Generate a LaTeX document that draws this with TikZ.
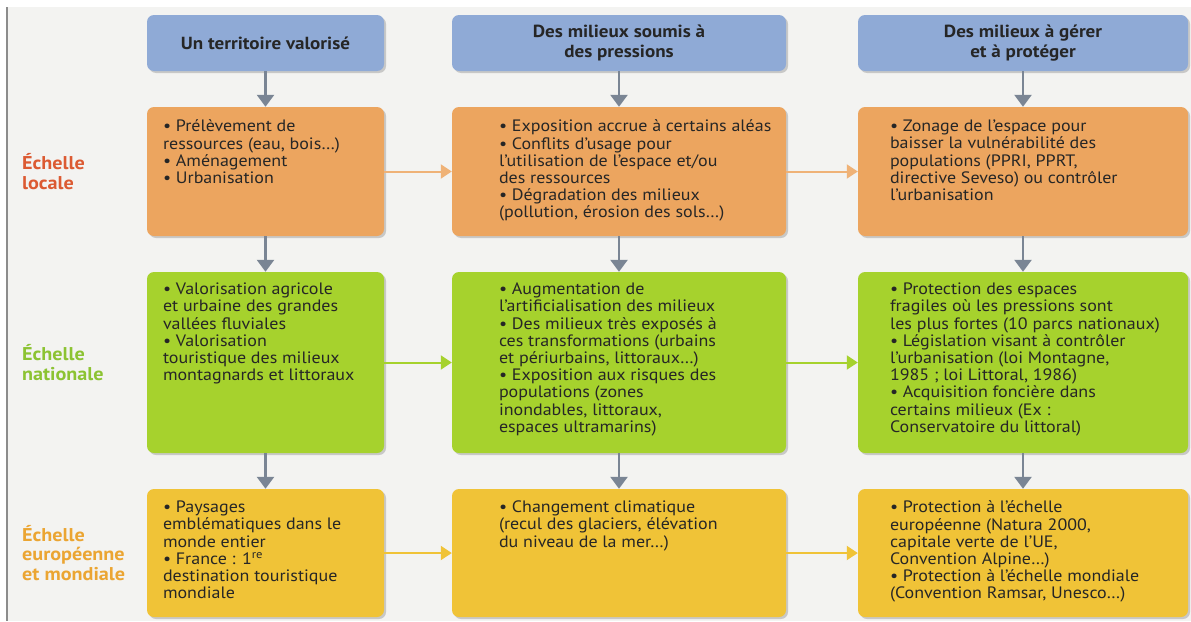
\documentclass[tikz,border=0pt]{standalone}
\usepackage{fontspec}
\setmainfont{PT Sans}[FakeStretch=1.09]
\usepackage{tikz}
\usetikzlibrary{arrows.meta,shadows}
\definecolor{bgGrey}{HTML}{F3F3F1}
\definecolor{headBlue}{HTML}{8FAAD6}
\definecolor{locOrange}{HTML}{ECA55F}
\definecolor{natGreen}{HTML}{A6D22D}
\definecolor{monYellow}{HTML}{F0C337}
\definecolor{arrGrey}{HTML}{7A8594}
\definecolor{labRed}{HTML}{DC5A32}
\definecolor{labGreen}{HTML}{8CC332}
\definecolor{labOrange}{HTML}{EBA532}
\tikzset{%
  tipV/.tip={Triangle[width=17pt,length=12pt]},
  tipH/.tip={Triangle[width=14pt,length=11pt]},
  box/.style={rounded corners=7pt, inner sep=0pt,
    drop shadow={shadow xshift=2pt,shadow yshift=-2pt,opacity=.3,fill=black!60}},
  colone/.style={minimum width=237pt},
  coltwo/.style={minimum width=334pt},
  colthree/.style={minimum width=330pt},
  head/.style={box, fill=headBlue, minimum height=56pt, align=center,
    font=\fontsize{17.5}{19.5}\selectfont\bfseries, text=black!85},
  txt/.style={anchor=north west, align=left, inner sep=0pt,
    font=\fontsize{16.5}{17.2}\selectfont, text=black!85},
  lab/.style={anchor=west, align=left, inner sep=0pt,
    font=\fontsize{18.5}{19.5}\selectfont\bfseries}
}

\begin{document}
\begin{tikzpicture}[x=1pt,y=-1pt]
\useasboundingbox (0,0) rectangle (1191,621);
\fill[white] (0,0) rectangle (1191,621);
\fill[bgGrey] (7,7) rectangle (1191,621);
\draw[line width=1.5pt, black!45] (7,7) -- (7,621);

\node[head, colone] (h1) at (265.5,43) {Un territoire valorisé};
\node[head, coltwo] (h2) at (619,43) {Des milieux soumis à\\des pressions};
\node[head, colthree] (h3) at (1023,43) {Des milieux à gérer\\et à protéger};

\node[box, colone, fill=locOrange, minimum height=129pt] (l1) at (265.5,171.5) {};
\node[box, coltwo, fill=locOrange, minimum height=129pt] (l2) at (619,171.5) {};
\node[box, colthree, fill=locOrange, minimum height=129pt] (l3) at (1023,171.5) {};
\node[box, colone, fill=natGreen, minimum height=181pt] (n1) at (265.5,362.5) {};
\node[box, coltwo, fill=natGreen, minimum height=181pt] (n2) at (619,362.5) {};
\node[box, colthree, fill=natGreen, minimum height=181pt] (n3) at (1023,362.5) {};
\node[box, colone, fill=monYellow, minimum height=128pt] (m1) at (265.5,553) {};
\node[box, coltwo, fill=monYellow, minimum height=128pt] (m2) at (619,553) {};
\node[box, colthree, fill=monYellow, minimum height=128pt] (m3) at (1023,553) {};

\node[txt] (l1t) at ([shift={(16,13)}]l1.north west) {• Prélèvement de\\ressources (eau, bois…)\\• Aménagement\\• Urbanisation};
\node[txt] (l2t) at ([shift={(47,13)}]l2.north west) {• Exposition accrue à certains aléas\\• Conflits d’usage pour\\l’utilisation de l’espace et/ou\\des ressources\\• Dégradation des milieux\\(pollution, érosion des sols…)};
\node[txt] (l3t) at ([shift={(32,13)}]l3.north west) {• Zonage de l’espace pour\\baisser la vulnérabilité des\\populations (PPRI, PPRT,\\directive Seveso) ou contrôler\\l’urbanisation};
\node[txt] (n1t) at ([shift={(16,11)}]n1.north west) {• Valorisation agricole\\et urbaine des grandes\\vallées fluviales\\• Valorisation\\touristique des milieux\\montagnards et littoraux};
\node[txt] (n2t) at ([shift={(47,11)}]n2.north west) {• Augmentation de\\l’artificialisation des milieux\\• Des milieux très exposés à\\ces transformations (urbains\\et périurbains, littoraux…)\\• Exposition aux risques des\\populations (zones\\inondables, littoraux,\\espaces ultramarins)};
\node[txt] (n3t) at ([shift={(32,11)}]n3.north west) {• Protection des espaces\\fragiles où les pressions sont\\les plus fortes (10 parcs nationaux)\\• Législation visant à contrôler\\l’urbanisation (loi Montagne,\\1985 ; loi Littoral, 1986)\\• Acquisition foncière dans\\certains milieux (Ex :\\Conservatoire du littoral)};
\node[txt] (m1t) at ([shift={(16,12)}]m1.north west) {• Paysages\\emblématiques dans le\\monde entier\\• France : 1\textsuperscript{re}\\destination touristique\\mondiale};
\node[txt] (m2t) at ([shift={(47,12)}]m2.north west) {• Changement climatique\\(recul des glaciers, élévation\\du niveau de la mer…)};
\node[txt] (m3t) at ([shift={(32,12)}]m3.north west) {• Protection à l’échelle\\européenne (Natura 2000,\\capitale verte de l’UE,\\Convention Alpine…)\\• Protection à l’échelle mondiale\\(Convention Ramsar, Unesco…)};

\node[lab, text=labRed] (sl) at (22,171.5) {Échelle\\locale};
\node[lab, text=labGreen] (sn) at (22,362.5) {Échelle\\nationale};
\node[lab, text=labOrange] (sm) at (22,553) {Échelle\\européenne\\et mondiale};

\foreach \c in {1,2,3} {
  \draw[line width=2.5pt, arrGrey, -tipV] (h\c) -- (l\c);
  \draw[line width=2.5pt, arrGrey, -tipV] (l\c) -- (n\c);
  \draw[line width=2.5pt, arrGrey, -tipV] (n\c) -- (m\c);
}
\draw[line width=2pt, locOrange!85!white, -tipH] (l1) -- (l2);
\draw[line width=2pt, locOrange!85!white, -tipH] (l2) -- (l3);
\draw[line width=2pt, natGreen, -tipH] (n1) -- (n2);
\draw[line width=2pt, natGreen, -tipH] (n2) -- (n3);
\draw[line width=2pt, monYellow, -tipH] (m1) -- (m2);
\draw[line width=2pt, monYellow, -tipH] (m2) -- (m3);
\end{tikzpicture}
\end{document}
